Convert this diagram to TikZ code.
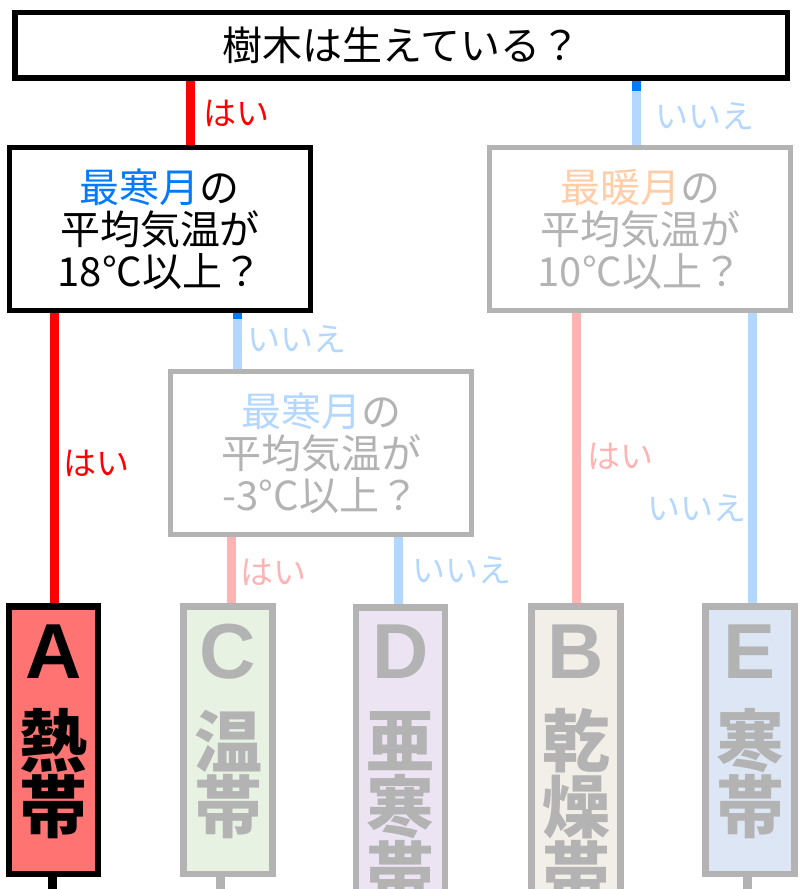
\documentclass[tikz,border=0pt]{standalone}
\usepackage{fontspec}
\setmainfont{Noto Sans CJK JP}
\newfontfamily\latfont{Liberation Sans}
\usetikzlibrary{calc,backgrounds}
\definecolor{myblue}{HTML}{007AFF}
\definecolor{lblue}{HTML}{B3D7FF}
\definecolor{lpink}{HTML}{FFB3B3}
\definecolor{gry}{HTML}{B3B3B3}
\definecolor{peach}{HTML}{FFCDA8}
\definecolor{fillA}{HTML}{FF7373}
\definecolor{fillC}{HTML}{E8F2E3}
\definecolor{fillD}{HTML}{ECE4F3}
\definecolor{fillB}{HTML}{F2EFE8}
\definecolor{fillE}{HTML}{DCE6F5}
\tikzset{
  qbox/.style={draw, line width=5.5pt, minimum width=301pt, minimum height=163pt, inner sep=0pt, align=center, font=\fontsize{40}{42}\selectfont},
  zone/.style={draw, line width=6.5pt, minimum width=89pt, minimum height=267.5pt, inner sep=0pt},
  zonelong/.style={zone, minimum height=334.5pt},
  conn/.style={line width=9pt},
  lab/.style={inner sep=0pt, font=\fontsize{33}{33}\selectfont},
  letter/.style={inner sep=0pt, font=\latfont\bfseries\fontsize{78}{78}\selectfont},
  kanji/.style={inner sep=0pt, font=\bfseries\fontsize{68}{68}\selectfont},
}
\begin{document}
\begin{tikzpicture}[x=1pt,y=-1pt]
\useasboundingbox (0,0) rectangle (800,889);
\clip (0,0) rectangle (800,889);
% question boxes
\node[draw, line width=5.5pt, minimum width=772.5pt, minimum height=65.5pt, inner sep=0pt, font=\fontsize{40}{42}\selectfont] (top) at (401,45) {樹木は生えている？};
\node[qbox, fill=white] (q1) at (160,229) {{\color{myblue}最寒月}の\\平均気温が\\18°C以上？};
\node[qbox, draw=gry, text=gry, fill=white] (q3) at (640,229) {{\color{peach}最暖月}の\\平均気温が\\10°C以上？};
\node[qbox, draw=gry, text=gry, fill=white] (q2) at (321,453) {{\color{lblue}最寒月}の\\平均気温が\\-3°C以上？};
% zone boxes
\node[zone, fill=fillA] (A) at (53.5,740) {};
\node[zone, draw=gry, fill=fillC] (C) at (228,740) {};
\node[zonelong, draw=gry, fill=fillD] (D) at (400.5,774.5) {};
\node[zonelong, draw=gry, fill=fillB] (B) at (576,773.5) {};
\node[zone, draw=gry, fill=fillE] (E) at (750,740) {};
% zone texts
\node[letter] (Aa) at (53.5,651.5) {A};
\node[kanji] (Ab) at (53.5,741) {熱};
\node[kanji] (Ac) at (53.5,807) {帯};
\node[letter, text=gry] (Ca) at (228,651.5) {C};
\node[kanji, text=gry] (Cb) at (228,741) {温};
\node[kanji, text=gry] (Cc) at (228,807) {帯};
\node[letter, text=gry] (Da) at (400.5,651.5) {D};
\node[kanji, text=gry] (Db) at (400.5,741) {亜};
\node[kanji, text=gry] (Dc) at (400.5,807) {寒};
\node[kanji, text=gry] (Dd) at (400.5,873) {帯};
\node[letter, text=gry] (Ba) at (576,651.5) {B};
\node[kanji, text=gry] (Bb) at (576,741) {乾};
\node[kanji, text=gry] (Bc) at (576,807) {燥};
\node[kanji, text=gry] (Bd) at (576,873) {帯};
\node[letter, text=gry] (Ea) at (750,651.5) {E};
\node[kanji, text=gry] (Eb) at (750,741) {寒};
\node[kanji, text=gry] (Ec) at (750,807) {帯};
% labels
\node[lab, text=red] (l1) at (236,113) {はい};
\node[lab, text=lblue] (l2) at (705,116) {いいえ};
\node[lab, text=lblue] (l3) at (297,339) {いいえ};
\node[lab, text=red] (l4) at (96,463) {はい};
\node[lab, text=lpink] (l5) at (273,572) {はい};
\node[lab, text=lblue] (l6) at (462,570) {いいえ};
\node[lab, text=lpink] (l7) at (620,456) {はい};
\node[lab, text=lblue] (l8) at (697,508) {いいえ};
% x positions
\coordinate (x1) at (190,0);
\coordinate (x2) at (636,0);
\coordinate (xa) at (54,0);
\coordinate (xq) at (237,0);
\coordinate (xc) at (231,0);
\coordinate (xd) at (398,0);
\coordinate (xb) at (576,0);
\coordinate (xe) at (752,0);
\coordinate (endA) at (52,889);
\coordinate (endC) at (220,889);
\coordinate (endE) at (747,889);
\begin{scope}[on background layer]
\draw[conn, red] (top.south -| x1) -- (q1.north -| x1);
\draw[conn, lblue] (top.south -| x2) -- (q3.north -| x2);
\draw[conn, myblue] (top.south -| x2) -- ++(0,10.5);
\draw[conn, red] (q1.south -| xa) -- (A.north -| xa);
\draw[conn, lblue] (q1.south -| xq) -- (q2.north -| xq);
\draw[conn, myblue] (q1.south -| xq) -- ++(0,5.5);
\draw[conn, lpink] (q2.south -| xc) -- (C.north -| xc);
\draw[conn, lblue] (q2.south -| xd) -- (D.north -| xd);
\draw[conn, lpink] (q3.south -| xb) -- (B.north -| xb);
\draw[conn, lblue] (q3.south -| xe) -- (E.north -| xe);
\draw[conn, black] (A.south -| endA) -- (endA);
\draw[conn, gry] (C.south -| endC) -- (endC);
\draw[conn, gry] (E.south -| endE) -- (endE);
\end{scope}
\end{tikzpicture}
\end{document}
